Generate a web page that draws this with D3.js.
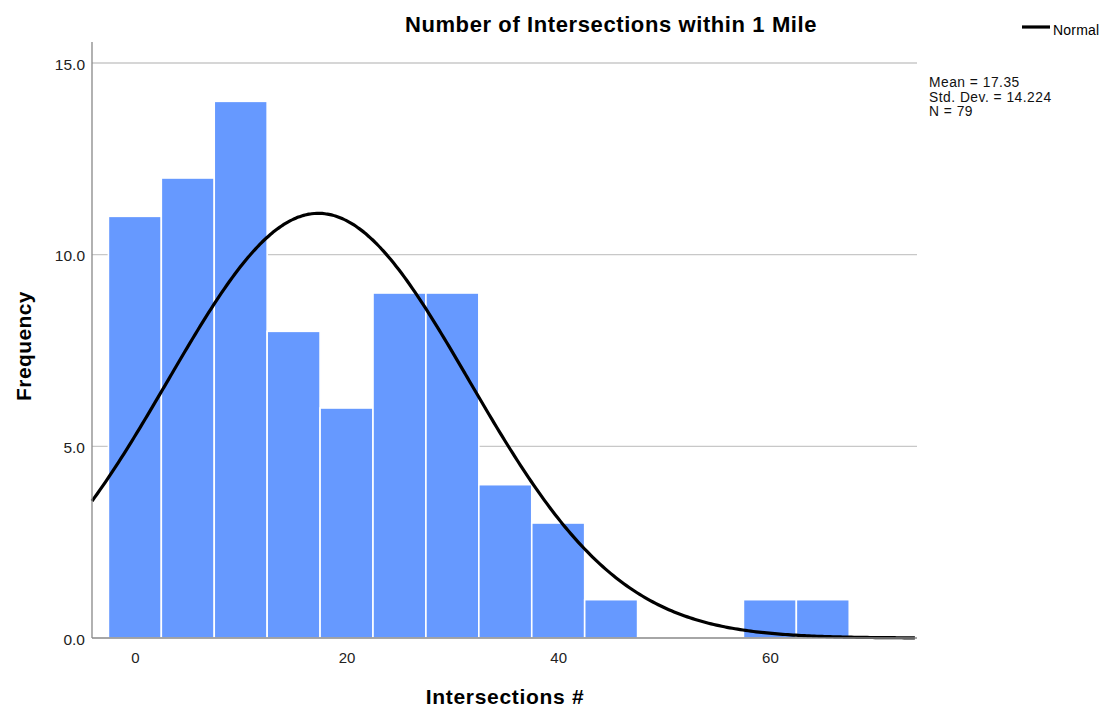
<!DOCTYPE html>
<html><head><meta charset="utf-8">
<script src="https://cdn.jsdelivr.net/npm/d3@7"></script>
<style>body{margin:0;background:#fff;font-family:Arial,"Liberation Sans",sans-serif;}</style>
</head><body>
<svg id="c" width="1104" height="711"></svg>
<script>
const binStarts = [-2.5, 2.5, 7.5, 12.5, 17.5, 22.5, 27.5, 32.5, 37.5, 42.5, 57.5, 62.5];
const counts    = [11, 12, 14, 8, 6, 9, 9, 4, 3, 1, 1, 1];
const binWidth = 5;
const xTicks = [0, 20, 40, 60];
const yTicks = [0, 5, 10, 15];
const stats = {mean: 17.35, sd: 14.224, n: 79};
const statLines = ["Mean = 17.35", "Std. Dev. = 14.224", "N = 79"];

const FONT = "Arial, 'Liberation Sans', sans-serif";
const svg = d3.select("#c").attr("font-family", FONT);
const x = d3.scaleLinear().domain([-4.05, 73.9]).range([92, 917]);
const y = d3.scaleLinear().domain([0, 15]).range([638, 63]);

// gridlines
svg.append("g").selectAll("line").data(yTicks.filter(d => d > 0)).join("line")
  .attr("x1", 92).attr("x2", 917).attr("y1", d => y(d)).attr("y2", d => y(d))
  .attr("stroke", "#c8c8c8").attr("stroke-width", 1.3);

// bars
svg.append("g").selectAll("rect").data(binStarts).join("rect")
  .attr("x", d => x(d)).attr("width", d => x(d + binWidth) - x(d))
  .attr("y", (d, i) => y(counts[i])).attr("height", (d, i) => y(0) - y(counts[i]))
  .attr("fill", "#6699ff").attr("stroke", "#ffffff").attr("stroke-width", 1.6);

// normal curve
const scaleK = stats.n * binWidth / (stats.sd * Math.sqrt(2 * Math.PI));
const curve = d3.range(-4.05, 73.91, 0.25).map(v => [v, scaleK * Math.exp(-0.5 * ((v - stats.mean) / stats.sd) ** 2)]);
svg.append("path").datum(curve)
  .attr("d", d3.line().x(d => x(d[0])).y(d => y(d[1])).curve(d3.curveBasis))
  .attr("fill", "none").attr("stroke", "#000").attr("stroke-width", 3.2);

// axes
const yAxis = d3.axisLeft(y).tickValues(yTicks).tickFormat(d3.format(".1f")).tickSize(0).tickPadding(7);
const gy = svg.append("g").attr("transform", "translate(92,0)").call(yAxis);
gy.select(".domain").remove();
gy.selectAll("text").attr("font-size", 15.5).attr("fill", "#222").attr("font-family", FONT).attr("dy", "0.4em");
svg.append("line").attr("x1", 92).attr("x2", 92).attr("y1", 42).attr("y2", 638).attr("stroke", "#888").attr("stroke-width", 1.3);

const xAxis = d3.axisBottom(x).tickValues(xTicks).tickFormat(d3.format("d")).tickSize(0).tickPadding(14);
const gx = svg.append("g").attr("transform", "translate(0,638)").call(xAxis);
gx.select(".domain").remove();
gx.selectAll("text").attr("font-size", 15).attr("fill", "#222").attr("font-family", FONT);
svg.append("line").attr("x1", 92).attr("x2", 917).attr("y1", 638).attr("y2", 638).attr("stroke", "#888").attr("stroke-width", 1.3);

// titles
svg.append("text").attr("x", 611).attr("y", 32).attr("text-anchor", "middle")
  .attr("font-size", 22).attr("font-weight", "bold").attr("letter-spacing", 0.6).text("Number of Intersections within 1 Mile");
svg.append("text").attr("x", 505).attr("y", 704).attr("text-anchor", "middle")
  .attr("font-size", 21).attr("font-weight", "bold").attr("letter-spacing", 0.7).text("Intersections #");
svg.append("text").attr("transform", "translate(31,346) rotate(-90)").attr("text-anchor", "middle")
  .attr("font-size", 21).attr("font-weight", "bold").attr("letter-spacing", 0.4).text("Frequency");

// legend
svg.append("line").attr("x1", 1022).attr("x2", 1050).attr("y1", 27).attr("y2", 27).attr("stroke", "#000").attr("stroke-width", 3.2);
svg.append("text").attr("x", 1053).attr("y", 35).attr("font-size", 14).attr("letter-spacing", 0.2).text("Normal");

svg.append("g").selectAll("text").data(statLines).join("text")
  .attr("x", 929).attr("y", (d, i) => 87 + i * 14.6).attr("font-size", 13.8).attr("letter-spacing", 0.5).attr("fill", "#111").text(d => d);
</script>
</body></html>
